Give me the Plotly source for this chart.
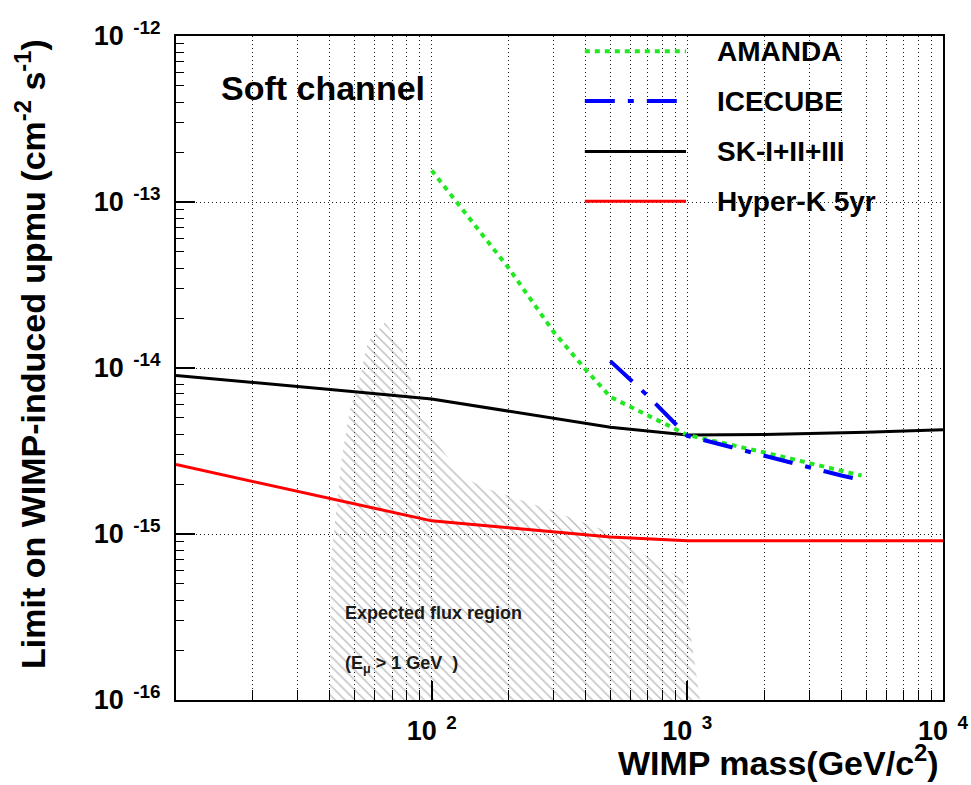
import plotly.graph_objects as go

# ---- data -------------------------------------------------------------
# Super-K I+II+III upper limit
sk_mass = [10, 20, 50, 100, 200, 500, 1000, 2000, 5000, 10000]
sk_flux = [9.0e-15, 8.2e-15, 7.2e-15, 6.5e-15, 5.5e-15, 4.4e-15, 3.95e-15, 3.97e-15, 4.1e-15, 4.25e-15]

# Hyper-K 5 yr sensitivity
hk_mass = [10, 20, 40, 100, 200, 500, 1000, 10000]
hk_flux = [2.62e-15, 2.07e-15, 1.64e-15, 1.2e-15, 1.09e-15, 9.6e-16, 9.1e-16, 9.1e-16]

# AMANDA limit
am_mass = [100, 200, 300, 400, 500, 700, 1000, 2000, 3000, 4800]
am_flux = [1.55e-13, 4.0e-14, 1.65e-14, 9.8e-15, 6.7e-15, 5.2e-15, 3.95e-15, 3.1e-15, 2.69e-15, 2.25e-15]

# IceCube limit
ic_mass = [500, 700, 1000, 2000, 4000, 4800]
ic_flux = [1.1e-14, 6.8e-15, 3.9e-15, 2.95e-15, 2.25e-15, 2.12e-15]

# expected flux region (closed contour)
reg_mass = [40, 40.4, 44.6, 47.9, 52.5, 56.3, 65.6, 75.2, 82.2, 90, 107.6, 132, 169,
            290, 468, 635, 962, 1120, 40]
reg_flux = [1e-16, 7.0e-16, 2.93e-15, 5.6e-15, 8.9e-15, 1.43e-14, 1.88e-14, 1.43e-14,
            8.9e-15, 5.6e-15, 3.36e-15, 2.2e-15, 1.85e-15, 1.4e-15, 1.06e-15, 8.0e-16,
            5.3e-16, 1e-16, 1e-16]

SP = "\u2002"
x_tickvals = [100, 1000, 10000]
x_ticktext = [f"10<sup>{SP}2</sup>", f"10<sup>{SP}3</sup>", f"10<sup>{SP}4</sup>"]
y_tickvals = [1e-16, 1e-15, 1e-14, 1e-13, 1e-12]
y_ticktext = [f"10<sup>{SP}-16</sup>", f"10<sup>{SP}-15</sup>", f"10<sup>{SP}-14</sup>",
              f"10<sup>{SP}-13</sup>", f"10<sup>{SP}-12</sup>"]

FONT = "Liberation Sans, Arial, Helvetica, sans-serif"

# series styles: name, x, y, colour, width, dash
series = [
    ("AMANDA", am_mass, am_flux, "#22e822", 4, "5px,5px"),
    ("ICECUBE", ic_mass, ic_flux, "#0000ff", 4, "30px,13px,6px,13px"),
    ("SK-I+II+III", sk_mass, sk_flux, "#000000", 3, "solid"),
    ("Hyper-K 5yr", hk_mass, hk_flux, "#ff0000", 3, "solid"),
]

fig = go.Figure()

# hatched expected-flux region
fig.add_trace(go.Scatter(
    x=reg_mass, y=reg_flux, mode="lines", fill="toself",
    line=dict(width=0, color="rgba(0,0,0,0)"),
    fillcolor="rgba(0,0,0,0)",
    fillpattern=dict(shape="\\", fgcolor="#7a7a7a", bgcolor="rgba(0,0,0,0)",
                     size=7, solidity=0.2),
    hoverinfo="skip", showlegend=False,
))

# draw order: red, black, green, blue
for idx in [3, 2, 0, 1]:
    name, xs, ys, col, w, dash = series[idx]
    fig.add_trace(go.Scatter(
        x=xs, y=ys, mode="lines", name=name,
        line=dict(color=col, width=w, dash=dash),
        showlegend=False,
    ))

# hand-built legend in the upper right
leg_x0, leg_x1, leg_txt = 0.533, 0.665, 0.703
leg_rows = [0.977, 0.902, 0.826, 0.751]
for (name, xs, ys, col, w, dash), yy in zip(series, leg_rows):
    fig.add_shape(type="line", xref="paper", yref="paper",
                  x0=leg_x0, x1=leg_x1, y0=yy, y1=yy,
                  line=dict(color=col, width=w, dash=dash))
    fig.add_annotation(xref="paper", yref="paper", x=leg_txt, y=yy,
                       text=name, showarrow=False, xanchor="left", yanchor="middle",
                       font=dict(family=FONT, size=28, color="black", weight="bold"))

# in-plot texts
fig.add_annotation(xref="paper", yref="paper", x=0.056, y=0.922,
                   text="Soft channel", showarrow=False, xanchor="left", yanchor="middle",
                   font=dict(family=FONT, size=34, color="black", weight="bold"))
fig.add_annotation(xref="paper", yref="paper", x=0.218, y=0.131,
                   text="Expected flux region", showarrow=False, xanchor="left",
                   yanchor="middle",
                   font=dict(family=FONT, size=18, color="#1a1a1a", weight="bold"))
fig.add_annotation(xref="paper", yref="paper", x=0.218, y=0.053,
                   text="(E<sub>\u03bc</sub> > 1 GeV  )", showarrow=False, xanchor="left",
                   yanchor="middle",
                   font=dict(family=FONT, size=18, color="#1a1a1a", weight="bold"))

# axis titles
fig.add_annotation(xref="paper", yref="paper", x=0.998, y=-0.126,
                   text="WIMP mass(GeV/c<sup>2</sup>)", showarrow=False,
                   xanchor="right", yanchor="bottom",
                   font=dict(family=FONT, size=34, color="black", weight="bold"))
fig.add_annotation(xref="paper", yref="paper", x=-0.19, y=0.999,
                   text="Limit on WIMP-induced upmu (cm<sup>-2</sup> s<sup>-1</sup>)",
                   showarrow=False, textangle=-90, xanchor="center", yanchor="top",
                   font=dict(family=FONT, size=34, color="black", weight="bold"))

x_minor = [k * 10 ** d for d in range(1, 4) for k in range(2, 10)]
y_minor = [k * 10.0 ** d for d in range(-16, -12) for k in range(2, 10)]

grid_style = dict(showgrid=True, gridcolor="#1e1e1e", gridwidth=1, griddash="1px,3px")

fig.update_xaxes(
    type="log", range=[1, 4], automargin=False,
    tickmode="array", tickvals=x_tickvals, ticktext=x_ticktext,
    ticks="inside", ticklen=19, tickwidth=1.5, tickcolor="black",
    showline=True, linecolor="black", linewidth=2, mirror=True,
    tickfont=dict(family=FONT, size=27, color="black", weight="bold"),
    ticklabelstandoff=6,
    minor=dict(tickmode="array", tickvals=x_minor, ticks="inside", ticklen=10,
               tickwidth=1.2, tickcolor="black", **grid_style),
    zeroline=False,
    **grid_style,
)
fig.update_yaxes(
    type="log", range=[-16, -12], automargin=False,
    tickmode="array", tickvals=y_tickvals, ticktext=y_ticktext,
    ticks="inside", ticklen=19, tickwidth=1.5, tickcolor="black",
    showline=True, linecolor="black", linewidth=2, mirror=True,
    tickfont=dict(family=FONT, size=27, color="black", weight="bold"),
    ticklabelstandoff=8,
    minor=dict(tickmode="array", tickvals=y_minor, ticks="inside", ticklen=8,
               tickwidth=1.2, tickcolor="black", showgrid=False),
    zeroline=False,
    **grid_style,
)

fig.update_layout(
    width=971, height=785,
    margin=dict(l=176, r=28, t=36, b=85, autoexpand=False),
    paper_bgcolor="white", plot_bgcolor="white",
    font=dict(family=FONT, color="black"),
    showlegend=False,
)

fig.write_html("out.html")
